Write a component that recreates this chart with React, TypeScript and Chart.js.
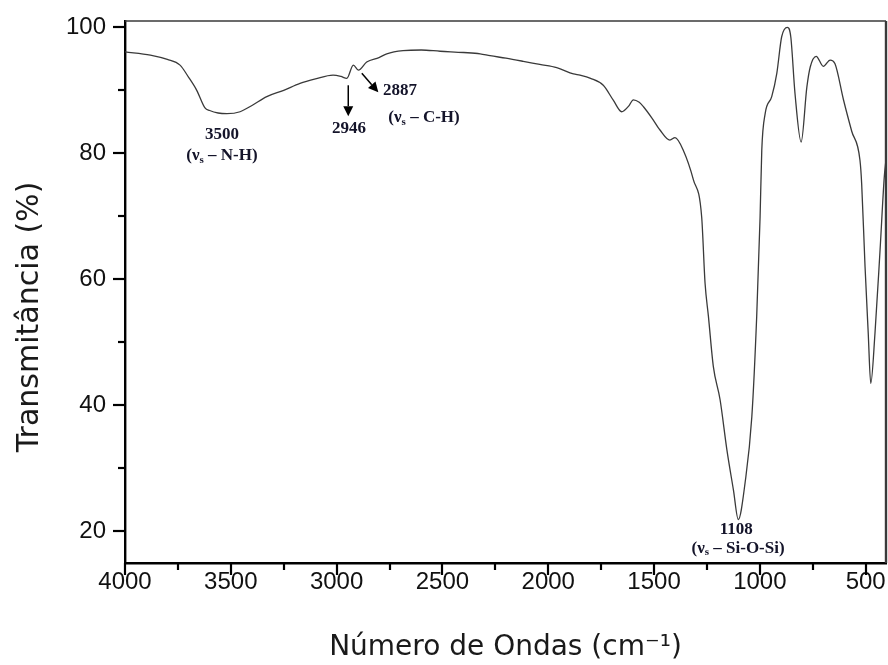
import React, { useEffect, useRef } from 'react';
import { Chart, registerables } from 'chart.js';

Chart.register(...registerables);

// Wavenumber (cm-1) and transmittance (%)
const wavenumbers = [
  4000, 3880, 3800, 3740, 3700, 3661, 3622, 3600, 3560, 3519, 3456, 3400, 3330, 3250, 3173, 3100,
  3017, 2980, 2952, 2921, 2897, 2858, 2800, 2763, 2686, 2600, 2511, 2400, 2322, 2275, 2200, 2118,
  2040, 1960, 1881, 1850, 1800, 1740, 1692, 1653, 1620, 1598, 1570, 1550, 1510, 1472, 1425, 1401,
  1362, 1314, 1275, 1259, 1243, 1220, 1188, 1156, 1125, 1102, 1070, 1038, 1015, 999, 991, 975,
  944, 920, 897, 870, 854, 834, 805, 778, 762, 734, 700, 668, 645, 605, 566, 527, 519, 503,
  488, 476, 456, 432, 412, 404,
];
const transmittance = [
  96.1, 95.6, 94.9, 94.0, 92.1, 90.0, 87.2, 86.8, 86.4, 86.3, 86.6, 87.6, 89.0, 90.0, 91.1, 91.8,
  92.4, 92.2, 91.9, 94.0, 93.2, 94.5, 95.2, 95.8, 96.3, 96.4, 96.2, 96.0, 95.8, 95.5, 95.1, 94.6,
  94.1, 93.6, 92.6, 92.4, 91.9, 90.8, 88.4, 86.6, 87.5, 88.5, 88.1, 87.4, 85.6, 83.7, 82.1, 82.5,
  80.5, 75.8, 69.9, 59.4, 54.1, 46.2, 40.9, 33.0, 26.6, 21.9, 27.7, 38.2, 54.1, 69.9, 80.5, 86.3,
  89.0, 92.7, 98.5, 100.0, 98.5, 89.5, 81.8, 90.5, 93.7, 95.4, 93.8, 94.8, 94.2, 88.5, 83.5, 78.9,
  75.2, 62.0, 51.5, 43.5, 51.5, 64.7, 76.3, 79.0,
];

const xMajorTicks = [4000, 3500, 3000, 2500, 2000, 1500, 1000, 500];
const xMinorTicks = [3750, 3250, 2750, 2250, 1750, 1250, 750];
const yMajorTicks = [20, 40, 60, 80, 100];
const yMinorTicks = [30, 50, 70, 90];

const xTitle = 'Número de Ondas (cm⁻¹)';
const yTitle = 'Transmitância (%)';

// Band annotations (data coordinates); parts: [text, isSubscript]
const bandLabels: { x: number; y: number; parts: [string, boolean][] }[] = [
  { x: 3542, y: 83.0, parts: [['3500', false]] },
  { x: 3542, y: 79.6, parts: [['(ν', false], ['s', true], [' – N-H)', false]] },
  { x: 2941, y: 84.0, parts: [['2946', false]] },
  { x: 2700, y: 90.0, parts: [['2887', false]] },
  { x: 2587, y: 85.6, parts: [['(ν', false], ['s', true], [' – C-H)', false]] },
  { x: 1112, y: 20.3, parts: [['1108', false]] },
  { x: 1103, y: 17.3, parts: [['(ν', false], ['s', true], [' – Si-O-Si)', false]] },
];
const arrowStartsX = [2945, 2881];
const arrowStartsY = [90.8, 92.7];
const arrowEndsX = [2945, 2803];
const arrowEndsY = [85.9, 89.7];

const decorPlugin = {
  id: 'decor',
  afterDraw(chart: any) {
    const ctx = chart.ctx as CanvasRenderingContext2D;
    const { left, right, top, bottom } = chart.chartArea;
    const xs = chart.scales.x;
    const ys = chart.scales.y;
    ctx.save();

    // top and right frame
    ctx.strokeStyle = '#3a3a3a';
    ctx.lineWidth = 1.6;
    ctx.beginPath();
    ctx.moveTo(left, top);
    ctx.lineTo(right, top);
    ctx.stroke();
    ctx.lineWidth = 2.4;
    ctx.beginPath();
    ctx.moveTo(right, top);
    ctx.lineTo(right, bottom);
    ctx.stroke();

    // ticks
    ctx.strokeStyle = '#000';
    ctx.lineWidth = 2.2;
    const tick = (x1: number, y1: number, x2: number, y2: number) => {
      ctx.beginPath();
      ctx.moveTo(x1, y1);
      ctx.lineTo(x2, y2);
      ctx.stroke();
    };
    xMajorTicks.forEach((v) => {
      const p = Math.round(xs.getPixelForValue(v));
      tick(p, bottom, p, bottom + 12);
    });
    xMinorTicks.forEach((v) => {
      const p = Math.round(xs.getPixelForValue(v));
      tick(p, bottom, p, bottom + 7);
    });
    yMajorTicks.forEach((v) => {
      const p = Math.round(ys.getPixelForValue(v));
      tick(left, p, left - 12, p);
    });
    yMinorTicks.forEach((v) => {
      const p = Math.round(ys.getPixelForValue(v));
      tick(left, p, left - 7, p);
    });

    // y title
    ctx.save();
    ctx.translate(30, (top + bottom) / 2 + 25);
    ctx.rotate(-Math.PI / 2);
    ctx.font = '30px "DejaVu Sans"';
    ctx.fillStyle = '#1a1a1a';
    ctx.textAlign = 'center';
    ctx.textBaseline = 'middle';
    ctx.fillText(yTitle, 0, 0);
    ctx.restore();

    // band labels
    const mainFont = 'bold 17px "Liberation Serif"';
    const subFont = 'bold 11px "Liberation Serif"';
    ctx.fillStyle = '#14142a';
    ctx.textBaseline = 'middle';
    ctx.textAlign = 'left';
    bandLabels.forEach((lab) => {
      let total = 0;
      lab.parts.forEach(([t, sub]) => {
        ctx.font = sub ? subFont : mainFont;
        total += ctx.measureText(t).width;
      });
      let cx = xs.getPixelForValue(lab.x) - total / 2;
      const cy = ys.getPixelForValue(lab.y);
      lab.parts.forEach(([t, sub]) => {
        ctx.font = sub ? subFont : mainFont;
        ctx.fillText(t, cx, sub ? cy + 4 : cy);
        cx += ctx.measureText(t).width;
      });
    });

    // arrows
    ctx.strokeStyle = '#000';
    ctx.fillStyle = '#000';
    ctx.lineWidth = 1.5;
    arrowStartsX.forEach((_, i) => {
      const x1 = xs.getPixelForValue(arrowStartsX[i]);
      const y1 = ys.getPixelForValue(arrowStartsY[i]);
      const x2 = xs.getPixelForValue(arrowEndsX[i]);
      const y2 = ys.getPixelForValue(arrowEndsY[i]);
      const ang = Math.atan2(y2 - y1, x2 - x1);
      const hl = 10;
      const hw = 5;
      const bx = x2 - hl * Math.cos(ang);
      const by = y2 - hl * Math.sin(ang);
      ctx.beginPath();
      ctx.moveTo(x1, y1);
      ctx.lineTo(bx, by);
      ctx.stroke();
      ctx.beginPath();
      ctx.moveTo(x2, y2);
      ctx.lineTo(bx + hw * Math.sin(ang), by - hw * Math.cos(ang));
      ctx.lineTo(bx - hw * Math.sin(ang), by + hw * Math.cos(ang));
      ctx.closePath();
      ctx.fill();
    });

    ctx.restore();
  },
};

export default function App() {
  const canvasRef = useRef<HTMLCanvasElement | null>(null);

  useEffect(() => {
    if (!canvasRef.current) return;
    const points = wavenumbers.map((w, i) => ({ x: w, y: transmittance[i] }));
    const chart = new Chart(canvasRef.current, {
      type: 'line',
      data: {
        datasets: [
          {
            data: points,
            borderColor: '#3a3a3a',
            borderWidth: 1.3,
            pointRadius: 0,
            fill: false,
            cubicInterpolationMode: 'monotone',
          },
        ],
      },
      options: {
        animation: false,
        responsive: false,
        devicePixelRatio: 1,
        layout: { padding: { top: 21, right: 2, left: 0, bottom: 0 } },
        plugins: { legend: { display: false }, tooltip: { enabled: false } },
        scales: {
          x: {
            type: 'linear',
            reverse: true,
            min: 404,
            max: 4000,
            afterBuildTicks: (scale: any) => {
              scale.ticks = xMajorTicks.map((v) => ({ value: v }));
            },
            afterFit: (scale: any) => {
              scale.height = 102;
              scale.paddingLeft = 0;
              scale.paddingRight = 0;
            },
            grid: { display: false, drawTicks: false },
            border: { display: true, color: '#000', width: 2.4 },
            ticks: {
              padding: 5,
              color: '#111',
              font: { family: '"Liberation Sans", Arial', size: 24 },
              maxRotation: 0,
              autoSkip: false,
              callback: (v: any) => String(v),
            },
            title: {
              display: true,
              text: xTitle,
              color: '#1a1a1a',
              font: { family: '"DejaVu Sans"', size: 28 },
              padding: { top: 0, bottom: 0 },
            },
          },
          y: {
            type: 'linear',
            min: 15,
            max: 101,
            afterBuildTicks: (scale: any) => {
              scale.ticks = yMajorTicks.map((v) => ({ value: v }));
            },
            afterFit: (scale: any) => {
              scale.width = 125;
              scale.paddingTop = 0;
              scale.paddingBottom = 0;
            },
            grid: { display: false, drawTicks: false },
            border: { display: true, color: '#000', width: 2.4 },
            ticks: {
              padding: 19,
              color: '#111',
              font: { family: '"Liberation Sans", Arial', size: 24 },
              autoSkip: false,
              callback: (v: any) => String(v),
            },
          },
        },
      },
      plugins: [decorPlugin],
    });
    return () => chart.destroy();
  }, []);

  return (
    <div style={{ position: 'absolute', left: 0, top: 0, width: 888, height: 665, background: '#fff' }}>
      <canvas ref={canvasRef} width={888} height={665} style={{ display: 'block' }} />
    </div>
  );
}
